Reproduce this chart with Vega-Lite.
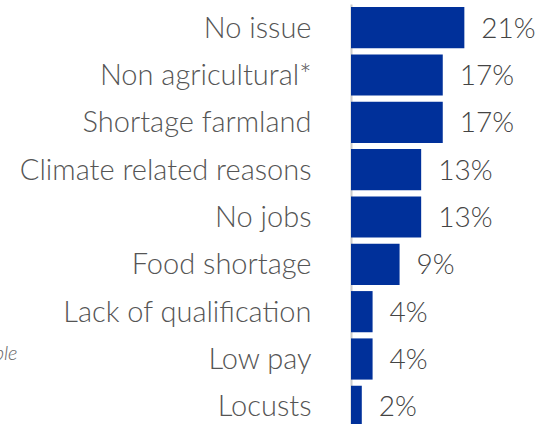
{
  "$schema": "https://vega.github.io/schema/vega-lite/v6.json",
  "autosize": {"type": "none"},
  "padding": {"left": 351, "top": 4, "right": 0, "bottom": 0},
  "width": 190,
  "height": 426,
  "background": "white",
  "config": {"view": {"stroke": null}, "font": "Lato"},
  "data": {
    "values": [
      {"reason": "No issue", "share": 0.21},
      {"reason": "Non agricultural*", "share": 0.17},
      {"reason": "Shortage farmland", "share": 0.17},
      {"reason": "Climate related reasons", "share": 0.13},
      {"reason": "No jobs", "share": 0.13},
      {"reason": "Food shortage", "share": 0.09},
      {"reason": "Lack of qualification", "share": 0.04},
      {"reason": "Low pay", "share": 0.04},
      {"reason": "Locusts", "share": 0.02}
    ]
  },
  "encoding": {
    "y": {
      "field": "reason",
      "type": "nominal",
      "sort": null,
      "scale": {"paddingInner": 0.13, "paddingOuter": 0.065},
      "axis": {
        "title": "ble",
        "titleAngle": 0,
        "titleX": -334,
        "titleY": 355,
        "titleAlign": "right",
        "titleBaseline": "alphabetic",
        "titleFont": "Lato",
        "titleFontStyle": "italic",
        "titleFontWeight": 300,
        "titleFontSize": 20,
        "titleColor": "#666666",
        "ticks": false,
        "domainColor": "#cccccc",
        "domainWidth": 2,
        "labelPadding": 40,
        "labelOffset": 1,
        "labelFont": "Lato",
        "labelFontWeight": 300,
        "labelFontSize": 29,
        "labelColor": "#555555",
        "labelLimit": 400
      }
    },
    "x": {
      "field": "share",
      "type": "quantitative",
      "scale": {"domain": [0, 0.352], "nice": false},
      "axis": null
    }
  },
  "layer": [
    {"mark": {"type": "bar", "color": "#00309a"}},
    {
      "mark": {
        "type": "text",
        "align": "left",
        "baseline": "middle",
        "dx": 17,
        "dy": 2,
        "font": "Lato",
        "fontWeight": 300,
        "fontSize": 28,
        "color": "#444444"
      },
      "encoding": {"text": {"field": "share", "type": "quantitative", "format": ".0%"}}
    }
  ]
}
